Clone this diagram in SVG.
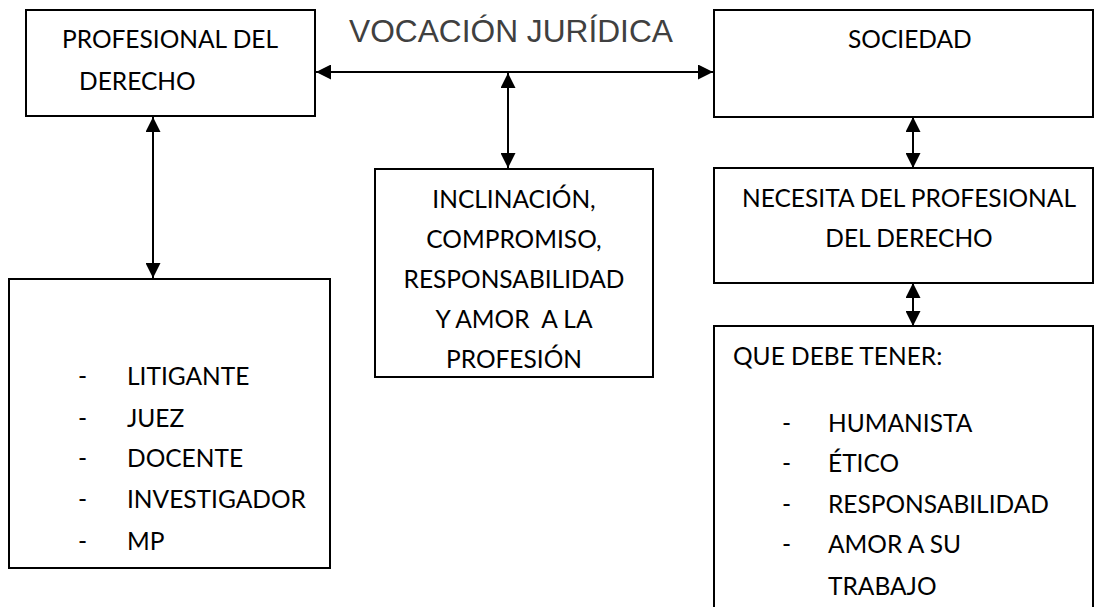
<svg xmlns="http://www.w3.org/2000/svg" width="1094" height="607" viewBox="0 0 1094 607">
<style>
.box{fill:#fff;stroke:#000;stroke-width:2}
.t{font-family:Lato,"Open Sans",sans-serif;font-size:24.5px;fill:#000}
.c{text-anchor:middle}
.title{font-family:"Liberation Sans",Arial,sans-serif;font-size:31.7px;fill:#404040}
.conn{stroke:#000;stroke-width:2;fill:none}
</style>
<defs>
<marker id="ah" viewBox="0 0 15 15" refX="15" refY="7.5" markerWidth="15" markerHeight="15" markerUnits="userSpaceOnUse" orient="auto-start-reverse">
<path d="M0,0 L15,7.5 L0,15 Z" fill="#000"/>
</marker>
</defs>
<rect width="1094" height="607" fill="#fff"/>
<g id="connectors">
<line class="conn" x1="316" y1="72" x2="713" y2="72" marker-start="url(#ah)" marker-end="url(#ah)"/>
<line class="conn" x1="508" y1="73" x2="508" y2="168" marker-start="url(#ah)" marker-end="url(#ah)"/>
<line class="conn" x1="153" y1="117" x2="153" y2="278" marker-start="url(#ah)" marker-end="url(#ah)"/>
<line class="conn" x1="913" y1="117" x2="913" y2="168" marker-start="url(#ah)" marker-end="url(#ah)"/>
<line class="conn" x1="913" y1="283" x2="913" y2="326" marker-start="url(#ah)" marker-end="url(#ah)"/>
</g>
<g id="title">
<text class="title" x="349" y="42">VOCACIÓN JURÍDICA</text>
</g>
<g id="profesional">
<rect class="box" x="26" y="10" width="289" height="106"/>
<text class="t" x="62" y="48">PROFESIONAL DEL</text>
<text class="t" x="79" y="90">DERECHO</text>
</g>
<g id="sociedad">
<rect class="box" x="714" y="10" width="379" height="107"/>
<text class="t" x="848" y="48">SOCIEDAD</text>
</g>
<g id="inclinacion">
<rect class="box" x="375" y="169" width="278" height="208"/>
<text class="t c" x="514" y="208">INCLINACIÓN,</text>
<text class="t c" x="514" y="248">COMPROMISO,</text>
<text class="t c" x="514" y="288">RESPONSABILIDAD</text>
<text class="t c" x="514" y="328" xml:space="preserve">Y AMOR  A LA</text>
<text class="t c" x="514" y="368">PROFESIÓN</text>
</g>
<g id="necesita">
<rect class="box" x="714" y="168" width="379" height="115"/>
<text class="t c" x="909" y="207">NECESITA DEL PROFESIONAL</text>
<text class="t c" x="909" y="247">DEL DERECHO</text>
</g>
<g id="debe">
<path class="box" d="M714,610 V326 H1093 V610"/>
<text class="t" x="733" y="365">QUE DEBE TENER:</text>
<text class="t" x="782" y="432">-</text><text class="t" x="828" y="432">HUMANISTA</text>
<text class="t" x="782" y="472">-</text><text class="t" x="828" y="472">ÉTICO</text>
<text class="t" x="782" y="513">-</text><text class="t" x="828" y="513">RESPONSABILIDAD</text>
<text class="t" x="782" y="553">-</text><text class="t" x="828" y="553">AMOR A SU</text>
<text class="t" x="828" y="595">TRABAJO</text>
</g>
<g id="roles">
<rect class="box" x="9" y="279" width="321" height="289"/>
<text class="t" x="78" y="385">-</text><text class="t" x="127" y="385">LITIGANTE</text>
<text class="t" x="78" y="427">-</text><text class="t" x="127" y="427">JUEZ</text>
<text class="t" x="78" y="467">-</text><text class="t" x="127" y="467">DOCENTE</text>
<text class="t" x="78" y="508">-</text><text class="t" x="127" y="508">INVESTIGADOR</text>
<text class="t" x="78" y="550">-</text><text class="t" x="127" y="550">MP</text>
</g>
</svg>
